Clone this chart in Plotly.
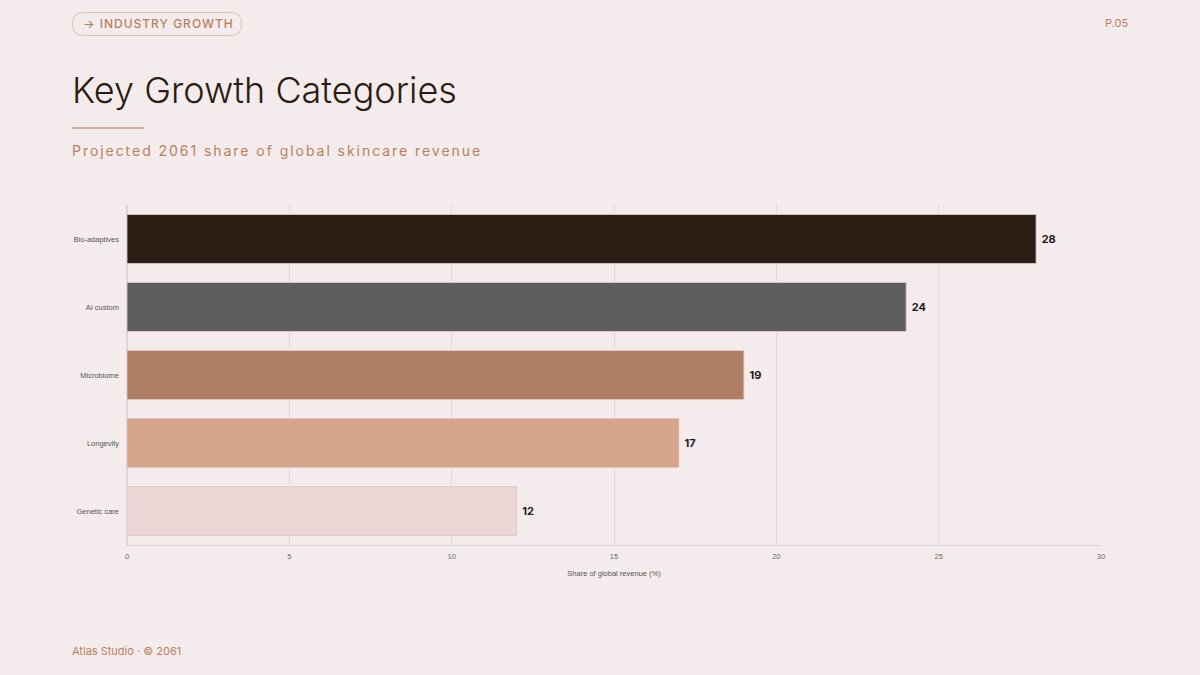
import plotly.graph_objects as go

# dados do gráfico
categories = ["Bio-adaptives", "AI custom", "Microbiome", "Longevity", "Genetic care"]
shares = [28, 24, 19, 17, 12]
bar_colors = ["#2b1c14", "#5e5e5e", "#b07e64", "#d6a38b", "#ead6d4"]
x_ticks = [0, 5, 10, 15, 20, 25, 30]

BG = "#f4ecec"
ACCENT = "#b8805f"
DARK = "#2b1c14"

# área do gráfico em pixels (janela 1200x675)
W, H = 1200, 675
L, R, T, B = 127, 99, 205, 130
PW, PH = W - L - R, H - T - B


def px(x):
    return (x - L) / PW


def py(y):
    return (H - B - y) / PH


def rounded_rect(x0, y0, x1, y1, r):
    # caminho com cantos arredondados em coordenadas "paper"
    pts = [
        f"M {px(x0 + r)},{py(y0)}",
        f"L {px(x1 - r)},{py(y0)}",
        f"Q {px(x1)},{py(y0)} {px(x1)},{py(y0 + r)}",
        f"L {px(x1)},{py(y1 - r)}",
        f"Q {px(x1)},{py(y1)} {px(x1 - r)},{py(y1)}",
        f"L {px(x0 + r)},{py(y1)}",
        f"Q {px(x0)},{py(y1)} {px(x0)},{py(y1 - r)}",
        f"L {px(x0)},{py(y0 + r)}",
        f"Q {px(x0)},{py(y0)} {px(x0 + r)},{py(y0)}",
        "Z",
    ]
    return " ".join(pts)


fig = go.Figure(go.Bar(
    x=shares,
    y=categories,
    orientation="h",
    marker=dict(color=bar_colors, line=dict(color="rgba(225,200,195,0.85)", width=1)),
    texttemplate=" %{x}",
    textposition="outside",
    textfont=dict(family="Inter", size=11, color="#1e1a18", weight=700),
    cliponaxis=False,
    hoverinfo="skip",
))

fig.update_layout(
    width=W,
    height=H,
    paper_bgcolor=BG,
    plot_bgcolor=BG,
    margin=dict(l=L, r=R, t=T, b=B, pad=0),
    bargap=0.28,
    showlegend=False,
    font=dict(family="Liberation Sans, Arial", color="#555555"),
    xaxis=dict(
        range=[0, 30],
        tickvals=x_ticks,
        tickfont=dict(size=7.5, color="#6a6a6a"),
        ticklabelstandoff=4,
        showgrid=True,
        gridcolor="#e3dada",
        gridwidth=1,
        zeroline=True,
        zerolinecolor="#e0d6d6",
        showline=True,
        linecolor="#e0d6d6",
        ticks="",
        title=dict(text="Share of global revenue (%)", font=dict(size=7.5, color="#555555"), standoff=10),
        fixedrange=True,
    ),
    yaxis=dict(
        autorange="reversed",
        tickfont=dict(size=7.5, color="#555555"),
        showgrid=False,
        ticks="",
        ticklabelstandoff=7,
        fixedrange=True,
    ),
    shapes=[
        dict(type="path", xref="paper", yref="paper",
             path=rounded_rect(72.5, 12.5, 241.5, 35.5, 11),
             line=dict(color="#dfc2b4", width=1), fillcolor="rgba(0,0,0,0)"),
        dict(type="line", xref="paper", yref="paper",
             x0=px(72), x1=px(144), y0=py(128), y1=py(128),
             line=dict(color="#d09a7c", width=1.5)),
    ],
    annotations=[
        dict(text="→ INDUSTRY GROWTH", xref="paper", yref="paper",
             x=px(81), y=py(24), xanchor="left", yanchor="middle", showarrow=False,
             font=dict(family="Inter", size=12, color=ACCENT, weight=500)),
        dict(text="P.05", xref="paper", yref="paper",
             x=px(1130), y=py(23), xanchor="right", yanchor="middle", showarrow=False,
             font=dict(family="Inter", size=11, color=ACCENT)),
        dict(text="Key Growth Categories", xref="paper", yref="paper",
             x=px(70), y=py(90), xanchor="left", yanchor="middle", showarrow=False,
             font=dict(family="Inter", size=36, color=DARK, weight=300)),
        dict(text="Projected 2061 share of global skincare revenue", xref="paper", yref="paper",
             x=px(70), y=py(151), xanchor="left", yanchor="middle", showarrow=False,
             font=dict(family="Inter", size=14, color=ACCENT)),
        dict(text="Atlas Studio · © 2061", xref="paper", yref="paper",
             x=px(70), y=py(651), xanchor="left", yanchor="middle", showarrow=False,
             font=dict(family="Inter", size=11, color=ACCENT)),
    ],
)

# margem da página e espaçamento entre letras (o plotly não tem essa opção)
post_js = """
document.body.style.margin = '0';
document.querySelectorAll('.annotation-text').forEach(function(t){
  var s = t.textContent;
  var sp = null;
  if (s.indexOf('Projected') === 0) { sp = '1.95px'; }
  if (s.indexOf('INDUSTRY') >= 0) { sp = '1px'; }
  if (sp === null) { return; }
  var w0 = t.getBBox().width;
  t.style.letterSpacing = sp;
  var w1 = t.getBBox().width;
  var x = parseFloat(t.getAttribute('x') || '0');
  t.setAttribute('x', x + (w1 - w0) / 2);
});
"""

fig.write_html("out.html", post_script=post_js, config={"displayModeBar": False})
